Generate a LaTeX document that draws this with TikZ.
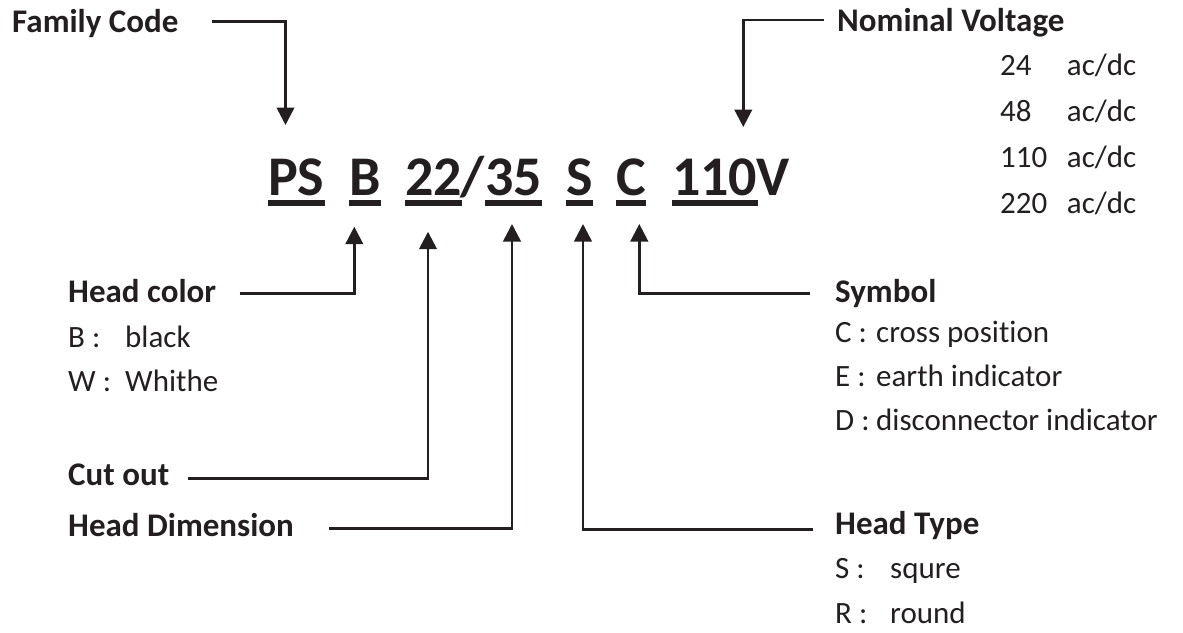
\documentclass[tikz,border=0pt]{standalone}
\usepackage{fontspec}
\setmainfont{Carlito}[Ligatures={NoCommon}]
\usetikzlibrary{arrows.meta}
\definecolor{ink}{RGB}{35,31,32}
\begin{document}
\begin{tikzpicture}[x=1pt,y=-1pt,
  lab/.style={anchor=base west, inner sep=0pt, font=\fontsize{33}{38}\selectfont\bfseries, text=ink},
  txt/.style={anchor=base west, inner sep=0pt, font=\fontsize{31}{36}\selectfont, text=ink},
  code/.style={anchor=base west, inner sep=0pt, font=\fontsize{56}{64}\selectfont\bfseries, text=ink},
  conn/.style={draw=ink, line width=2.6pt, -{Triangle[width=17.5pt,length=17.5pt]}},
  ul/.style={fill=ink}
  ]
\useasboundingbox (0,0) rectangle (1183,632);

% code line
\node[code] (PS)   at (268,195) {PS};
\node[code] (B)    at (349,195) {B};
\node[code] (d22)  at (405,195) {22};
\node[code] (sl)   at (460,195) {/};
\node[code] (d35)  at (485,195) {35};
\node[code] (S)    at (566,195) {S};
\node[code] (C)    at (616,195) {C};
\node[code] (d110) at (672,195) {110};
\node[code] (V)    at (756,195) {V};
\foreach \n in {PS,B,d22,d35,S,C,d110}
  \fill[ul] ([yshift=-5pt]\n.base west) rectangle ([yshift=-10.7pt]\n.base east);

% labels
\node[lab] (fam) at (12,32) {Family Code};
\node[lab] (nom) at (837,31.7) {Nominal Voltage};
\node[txt] (v1) at (1000,75) {24};
\node[txt] (v1u) at (1066.7,75) {ac/dc};
\node[txt] (v2) at (1000,121) {48};
\node[txt] (v2u) at (1066.7,121) {ac/dc};
\node[txt] (v3) at (1000,167) {110};
\node[txt] (v3u) at (1066.7,167) {ac/dc};
\node[txt] (v4) at (1000,213) {220};
\node[txt] (v4u) at (1066.7,213) {ac/dc};

\node[lab] (hc) at (68,302) {Head color};
\node[txt] (hc1) at (68,347.3) {B :};
\node[txt] (hc1t) at (125,347.3) {black};
\node[txt] (hc2) at (68,391.7) {W :};
\node[txt] (hc2t) at (125,391.7) {Whithe};

\node[lab] (cut) at (68,485) {Cut out};
\node[lab] (hd) at (68,536.7) {Head Dimension};

\node[lab] (sym) at (835,302.3) {Symbol};
\node[txt] (sy1) at (835,342.7) {C :};
\node[txt] (sy1t) at (876,342.7) {cross position};
\node[txt] (sy2) at (835,386.7) {E :};
\node[txt] (sy2t) at (876,386.7) {earth indicator};
\node[txt] (sy3) at (835,430) {D :};
\node[txt] (sy3t) at (876,430) {disconnector indicator};

\node[lab] (ht) at (835,534.3) {Head Type};
\node[txt] (ht1) at (835,578.3) {S :};
\node[txt] (ht1t) at (890,578.3) {squre};
\node[txt] (ht2) at (835,623.3) {R :};
\node[txt] (ht2t) at (890,623.3) {round};

% arrow tips
\coordinate (tPS)  at (285.5,125);
\coordinate (tV)   at (743.3,127);
\coordinate (tB)   at (354.3,226.7);
\coordinate (t22)  at (428,231.7);
\coordinate (t35)  at (512,224);
\coordinate (tS)   at (583,224);
\coordinate (tC)   at (639.3,224);

% connectors
\draw[conn] ([xshift=33pt,yshift=10.3pt]fam.base east) -| (tPS);
\draw[conn] ([xshift=-13.4pt,yshift=11.7pt]nom.base west) -| (tV);
\draw[conn] ([xshift=23.3pt,yshift=8.5pt]hc.base east) -| (tB);
\draw[conn] ([xshift=18.4pt,yshift=6.5pt]cut.base east) -| (t22);
\draw[conn] ([xshift=35pt,yshift=8.4pt]hd.base east) -| (t35);
\draw[conn] ([xshift=-25pt,yshift=9pt]sym.base west) -| (tC);
\draw[conn] ([xshift=-21.7pt,yshift=5pt]ht.base west) -| (tS);
\end{tikzpicture}
\end{document}
